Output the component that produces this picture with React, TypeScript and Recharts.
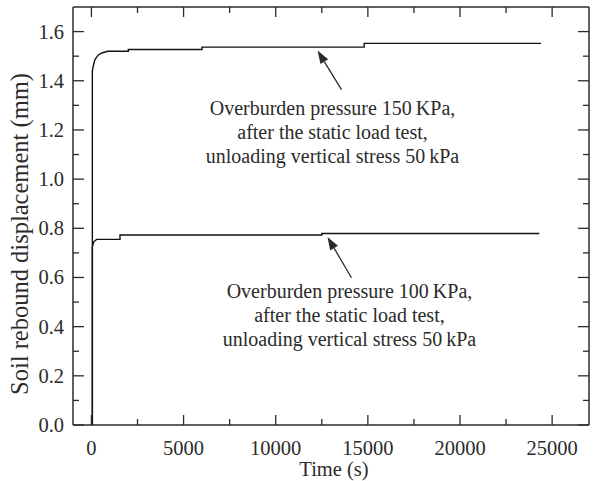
import React from 'react';
import { LineChart, Line, XAxis, YAxis, ReferenceLine, ReferenceDot } from 'recharts';

const TIME_150 = [50, 50, 100, 190, 370, 570, 880, 2000, 2000, 6000, 6000, 14800, 14800, 24400];
const DISP_150 = [0, 1.44, 1.46, 1.486, 1.505, 1.513, 1.52, 1.52, 1.527, 1.527, 1.537, 1.537, 1.552, 1.552];
const TIME_100 = [50, 50, 130, 280, 1550, 1550, 12500, 12500, 24300];
const DISP_100 = [0, 0.725, 0.745, 0.755, 0.755, 0.773, 0.773, 0.779, 0.779];

const X_TICKS = [0, 2500, 5000, 7500, 10000, 12500, 15000, 17500, 20000, 22500, 25000];
const Y_TICKS = [0, 0.1, 0.2, 0.3, 0.4, 0.5, 0.6, 0.7, 0.8, 0.9, 1.0, 1.1, 1.2, 1.3, 1.4, 1.5, 1.6];

const NOTE_150 = ['Overburden pressure 150\u2009KPa,', 'after the static load test,', 'unloading vertical stress 50\u2009kPa'];
const NOTE_100 = ['Overburden pressure 100\u2009KPa,', 'after the static load test,', 'unloading vertical stress 50\u2009kPa'];

const data150 = TIME_150.map((t, i) => ({ t, d: DISP_150[i] }));
const data100 = TIME_100.map((t, i) => ({ t, d: DISP_100[i] }));

const FONT = '"Liberation Serif", "DejaVu Serif", serif';
const INK = '#2b2b2b';
const FS = 20;
const TICK_FS = 20.5;

const BottomTick = (p: any) => {
  const major = p.payload.value % 5000 === 0;
  return (
    <g>
      <line x1={p.x} x2={p.x} y1={p.y} y2={p.y - (major ? 10 : 6)} stroke={INK} strokeWidth={1.3} />
      {major && (
        <text x={p.x} y={p.y + 30} textAnchor="middle" fontSize={TICK_FS} fontFamily={FONT} fill={INK}>
          {p.payload.value}
        </text>
      )}
    </g>
  );
};
const TopTick = (p: any) => {
  const major = p.payload.value % 5000 === 0;
  return <line x1={p.x} x2={p.x} y1={p.y} y2={p.y + (major ? 10 : 6)} stroke={INK} strokeWidth={1.3} />;
};
const LeftTick = (p: any) => {
  const major = p.index % 2 === 0;
  return (
    <g>
      <line x1={p.x} x2={p.x + (major ? 11 : 6)} y1={p.y} y2={p.y} stroke={INK} strokeWidth={1.3} />
      {major && (
        <text x={p.x - 9} y={p.y + 7} textAnchor="end" fontSize={TICK_FS} fontFamily={FONT} fill={INK}>
          {Number(p.payload.value).toFixed(1)}
        </text>
      )}
    </g>
  );
};
const RightTick = (p: any) => {
  const major = p.index % 2 === 0;
  return <line x1={p.x} x2={p.x - (major ? 11 : 6)} y1={p.y} y2={p.y} stroke={INK} strokeWidth={1.3} />;
};

const Arrow = (p: any) => {
  const { x1, y1, x2, y2 } = p;
  const dx = x2 - x1;
  const dy = y2 - y1;
  const len = Math.sqrt(dx * dx + dy * dy) || 1;
  const ux = dx / len;
  const uy = dy / len;
  const hl = 13;
  const hw = 4.5;
  const bx = x2 - ux * hl;
  const by = y2 - uy * hl;
  return (
    <g>
      <line x1={x1} y1={y1} x2={bx} y2={by} stroke={INK} strokeWidth={1.3} />
      <polygon
        points={`${x2},${y2} ${bx - uy * hw},${by + ux * hw} ${bx + uy * hw},${by - ux * hw}`}
        fill={INK}
      />
    </g>
  );
};

const noteShape = (lines: string[]) => (p: any) => (
  <text x={p.cx} y={p.cy} textAnchor="middle" fontSize={FS} fontFamily={FONT} fill={INK}>
    {lines.map((l, i) => (
      <tspan key={i} x={p.cx} dy={i === 0 ? 7 : 24}>
        {l}
      </tspan>
    ))}
  </text>
);

export default function App() {
  return (
    <div style={{ position: 'absolute', left: 0, top: 0, background: '#fff' }}>
      <LineChart width={595} height={481} margin={{ top: 0, right: 0, bottom: 0, left: 0 }}>
        <XAxis
          xAxisId="bottom"
          dataKey="t"
          type="number"
          domain={[-1000, 27000]}
          allowDataOverflow
          ticks={X_TICKS}
          interval={0}
          tickSize={0}
          tickMargin={0}
          height={56}
          axisLine={{ stroke: INK, strokeWidth: 1.5 }}
          tickLine={false}
          tick={BottomTick}
          label={{
            content: (lp: any) => {
              const vb = lp.viewBox;
              return (
                <text x={vb.x + vb.width / 2 + 3} y={vb.y + 51} textAnchor="middle" fontSize={20.5} fontFamily={FONT} fill={INK}>
                  Time (s)
                </text>
              );
            },
          }}
        />
        <XAxis
          xAxisId="top"
          orientation="top"
          dataKey="t"
          type="number"
          domain={[-1000, 27000]}
          allowDataOverflow
          ticks={X_TICKS}
          interval={0}
          tickSize={0}
          tickMargin={0}
          height={7}
          axisLine={{ stroke: INK, strokeWidth: 1.5 }}
          tickLine={false}
          tick={TopTick}
        />
        <YAxis
          yAxisId="left"
          type="number"
          domain={[0, 1.7]}
          allowDataOverflow
          ticks={Y_TICKS}
          interval={0}
          tickSize={0}
          tickMargin={0}
          width={73}
          axisLine={{ stroke: INK, strokeWidth: 1.5 }}
          tickLine={false}
          tick={LeftTick}
          label={{
            content: (lp: any) => {
              const vb = lp.viewBox;
              const cx = vb.x + 19;
              const cy = vb.y + vb.height / 2 + 18;
              return (
                <text x={cx} y={cy} transform={`rotate(-90 ${cx} ${cy})`} textAnchor="middle" dominantBaseline="central" fontSize={24.5} fontFamily={FONT} fill={INK}>
                  Soil rebound displacement (mm)
                </text>
              );
            },
          }}
        />
        <YAxis
          yAxisId="right"
          orientation="right"
          type="number"
          domain={[0, 1.7]}
          allowDataOverflow
          ticks={Y_TICKS}
          interval={0}
          tickSize={0}
          tickMargin={0}
          width={6}
          axisLine={{ stroke: INK, strokeWidth: 1.5 }}
          tickLine={false}
          tick={RightTick}
        />
        <Line
          xAxisId="bottom"
          yAxisId="left"
          data={data100}
          dataKey="d"
          type="linear"
          stroke="#111"
          strokeWidth={1.4}
          dot={false}
          isAnimationActive={false}
        />
        <Line
          xAxisId="top"
          yAxisId="right"
          data={data150}
          dataKey="d"
          type="linear"
          stroke="#111"
          strokeWidth={1.4}
          dot={false}
          isAnimationActive={false}
        />
        <ReferenceLine
          xAxisId="bottom"
          yAxisId="left"
          segment={[{ x: 13569, y: 1.364 }, { x: 12269, y: 1.523 }]}
          ifOverflow="visible"
          shape={Arrow}
        />
        <ReferenceLine
          xAxisId="bottom"
          yAxisId="left"
          segment={[{ x: 14110, y: 0.599 }, { x: 12810, y: 0.765 }]}
          ifOverflow="visible"
          shape={Arrow}
        />
        <ReferenceDot xAxisId="bottom" yAxisId="left" x={13081} y={1.29} r={0} ifOverflow="visible" shape={noteShape(NOTE_150)} />
        <ReferenceDot xAxisId="bottom" yAxisId="left" x={14002} y={0.546} r={0} ifOverflow="visible" shape={noteShape(NOTE_100)} />
      </LineChart>
    </div>
  );
}
